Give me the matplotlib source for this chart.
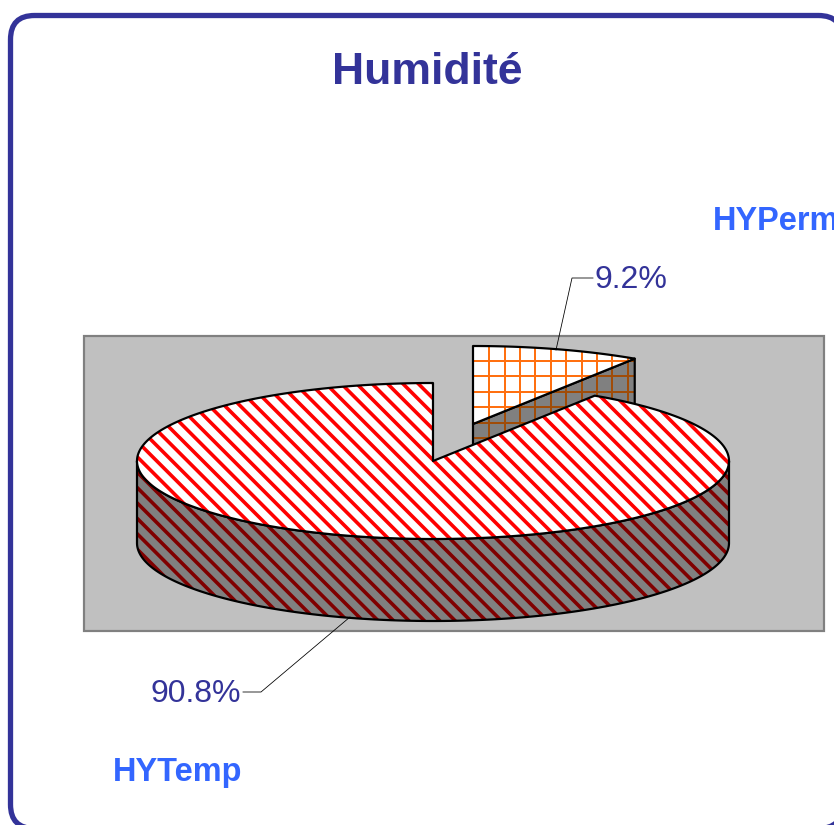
import numpy as np
import matplotlib
matplotlib.use('Agg')
import matplotlib.pyplot as plt
from matplotlib.collections import LineCollection
from matplotlib.patches import FancyBboxPatch, Polygon, Rectangle

plt.rcParams['font.family'] = ['Liberation Sans', 'DejaVu Sans']

# data
title = 'Humidité'
series_names = ['HYTemp', 'HYPerm']
shares = [90.8, 9.2]
share_labels = ['90.8%', '9.2%']

NAVY = '#333399'
BLUE = '#3366ff'

# pie geometry, in pixels
cx, cy = 433, 461
rx, ry = 296, 78
depth = 82
explode_x, explode_y = 40, -37
pattern_step = 15.4


def rim(start, stop, n=200, ox=0, oy=0):
    # angles are clockwise from 12 o'clock
    a = np.radians(np.linspace(start, stop, n))
    return np.column_stack([cx + ox + rx * np.sin(a), cy + oy - ry * np.cos(a)])


def fill_face(ax, pts, fc):
    ax.add_patch(Polygon(pts, closed=True, facecolor=fc, edgecolor='none', linewidth=0))


def outline(ax, pts):
    ax.add_patch(Polygon(pts, closed=True, fill=False, edgecolor='black',
                         linewidth=2.2, joinstyle='round'))


def check_pattern(ax, pts, color):
    # grid lines clipped to the face
    clip = Polygon(pts, closed=True, transform=ax.transData)
    vx = np.arange(489.3, 640, pattern_step)
    vy = np.arange(361, 460, pattern_step)
    v = ax.vlines(vx, 340, 460, color=color, linewidth=2, zorder=1)
    h = ax.hlines(vy, 465, 640, color=color, linewidth=2, zorder=1)
    v.set_clip_path(clip)
    h.set_clip_path(clip)


def stripes(ax, pts, color):
    # diagonal stripes running down to the right, clipped to the face
    clip = Polygon(pts, closed=True, transform=ax.transData)
    offsets = np.arange(-181 - 60 * pattern_step, 900, pattern_step)
    segs = [[(c, 0), (c + 825, 825)] for c in offsets]
    lc = LineCollection(segs, colors=color, linewidths=3.6, zorder=1)
    ax.add_collection(lc, autolim=False)
    lc.set_clip_path(clip)


fig = plt.figure(figsize=(834 / 72, 825 / 72), dpi=72)
ax = fig.add_axes([0, 0, 1, 1])
ax.set_xlim(0, 834)
ax.set_ylim(825, 0)
ax.axis('off')

# outer frame
ax.add_patch(FancyBboxPatch((10.5, 15.5), 832, 813, boxstyle='round,pad=0,rounding_size=24',
                            facecolor='white', edgecolor=NAVY, linewidth=5.3))

# plot area
ax.add_patch(Rectangle((84, 336), 740, 295, facecolor='#c0c0c0', edgecolor='#808080', linewidth=2.2))

sweep_small = 360 * shares[1] / sum(shares)

# small exploded slice: cut face first, then top
apex = np.array([cx + explode_x, cy + explode_y])
arc_small = rim(0, sweep_small, ox=explode_x, oy=explode_y)
corner = arc_small[-1]
side_small = np.array([apex, corner, corner + [0, depth], apex + [0, depth]])
fill_face(ax, side_small, '#808080')
check_pattern(ax, side_small, '#a04c08')
outline(ax, side_small)
top_small = np.vstack([[apex], arc_small])
fill_face(ax, top_small, 'white')
check_pattern(ax, top_small, '#ff7010')
outline(ax, top_small)

# big slice: outer wall, then top
front = rim(90, 270)
wall = np.vstack([front, (front + [0, depth])[::-1]])
fill_face(ax, wall, '#808080')
stripes(ax, wall, '#800000')
outline(ax, wall)
top_big = np.vstack([[[cx, cy]], rim(sweep_small, 360, n=400)])
fill_face(ax, top_big, 'white')
stripes(ax, top_big, '#ff0000')
outline(ax, top_big)

# leader lines
ax.plot([556, 572, 593], [350, 278, 278], color='black', linewidth=0.8)
ax.plot([350, 261, 243], [617, 692, 692], color='black', linewidth=0.8)

# text
ax.text(427, 72, title, fontsize=44.5, fontweight='bold', color=NAVY, ha='center', va='center')
ax.text(595, 280, share_labels[1], fontsize=32, color=NAVY, ha='left', va='center')
ax.text(241, 694, share_labels[0], fontsize=32, color=NAVY, ha='right', va='center')
ax.text(713, 221, series_names[1], fontsize=32.5, fontweight='bold', color=BLUE, ha='left', va='center')
ax.text(113, 773, series_names[0], fontsize=32.5, fontweight='bold', color=BLUE, ha='left', va='center')

fig.savefig('out.png', dpi=72, facecolor='white')
